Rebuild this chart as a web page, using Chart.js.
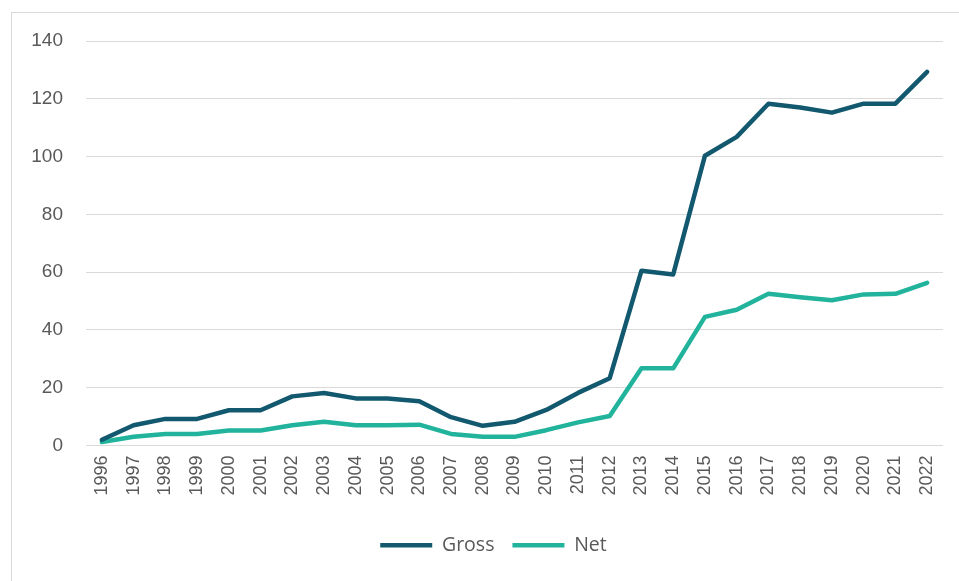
<!DOCTYPE html>
<html>
<head>
<meta charset="utf-8">
<script src="https://cdn.jsdelivr.net/npm/chart.js@4"></script>
<style>
  html, body { margin: 0; padding: 0; background: #fff; }
  #wrap { position: relative; width: 959px; height: 581px; }
  #frame { position: absolute; left: 11px; top: 12px; width: 960px; height: 580px;
           border: 1px solid #d9d9d9; pointer-events: none; }
</style>
</head>
<body>
<div id="wrap">
  <canvas id="chart" width="959" height="581"></canvas>
  <div id="frame"></div>
</div>
<script>
const years = ['1996','1997','1998','1999','2000','2001','2002','2003','2004','2005','2006','2007','2008','2009',
  '2010','2011','2012','2013','2014','2015','2016','2017','2018','2019','2020','2021','2022']
const gross = [2, 7, 9.2, 9.2, 12.2, 12.2, 17, 18.2, 16.3, 16.3, 15.3, 9.8, 6.8, 8.2,
  12.3, 18.2, 23.3, 60.5, 59.2, 100.3, 106.8, 118.3, 117, 115.2, 118.3, 118.3, 129.3]
const net = [1.2, 3, 4, 4, 5.2, 5.2, 7, 8.2, 7, 7, 7.2, 4, 3, 3,
  5.3, 8, 10.2, 26.7, 26.7, 44.5, 47, 52.5, 51.3, 50.3, 52.3, 52.5, 56.3]
const seriesNames = ['Gross', 'Net']
const yTicks = [0, 20, 40, 60, 80, 100, 120, 140]

const grossColor = '#12596f'
const netColor = '#21b39b'
const textColor = '#595959'

const data = {
  labels: years,
  datasets: [
    { label: seriesNames[0], data: gross, borderColor: grossColor, backgroundColor: grossColor, borderWidth: 4.5 },
    { label: seriesNames[1], data: net, borderColor: netColor, backgroundColor: netColor, borderWidth: 4.5 }
  ]
}

// legend sits a bit right of the canvas centre in the original
const nudgeLegend = {
  id: 'nudgeLegend',
  afterLayout(chart) {
    chart.legend.left += 21
    chart.legend.right += 21
  }
}

const config = {
  type: 'line',
  data: data,
  plugins: [nudgeLegend],
  options: {
    responsive: false,
    animation: false,
    devicePixelRatio: 1,
    layout: { padding: { top: 41, right: 14, bottom: 16, left: 0 } },
    elements: {
      line: { tension: 0, borderCapStyle: 'round', borderJoinStyle: 'round' },
      point: { radius: 0 }
    },
    scales: {
      x: {
        offset: true,
        grid: { display: false, drawTicks: false },
        border: { display: false },
        ticks: {
          minRotation: 90, maxRotation: 90, autoSkip: false, padding: 10,
          color: textColor, font: { family: 'Liberation Sans', size: 18 }
        },
        afterFit: (axis) => { axis.height = 72 }
      },
      y: {
        min: 0, max: 140,
        afterBuildTicks: (axis) => { axis.ticks = yTicks.map(v => ({ value: v })) },
        grid: { color: '#d9d9d9', lineWidth: 1, drawTicks: false },
        border: { display: false },
        ticks: { padding: 23, color: textColor, font: { family: 'Liberation Sans', size: 19 } },
        afterFit: (axis) => { axis.width = 86 }
      }
    },
    plugins: {
      tooltip: { enabled: false },
      legend: {
        position: 'bottom',
        labels: {
          usePointStyle: true, pointStyle: 'line', pointStyleWidth: 52,
          color: textColor, font: { family: 'Open Sans', size: 19.5 }, padding: 18
        }
      }
    }
  }
}

new Chart(document.getElementById('chart'), config)
</script>
</body>
</html>
